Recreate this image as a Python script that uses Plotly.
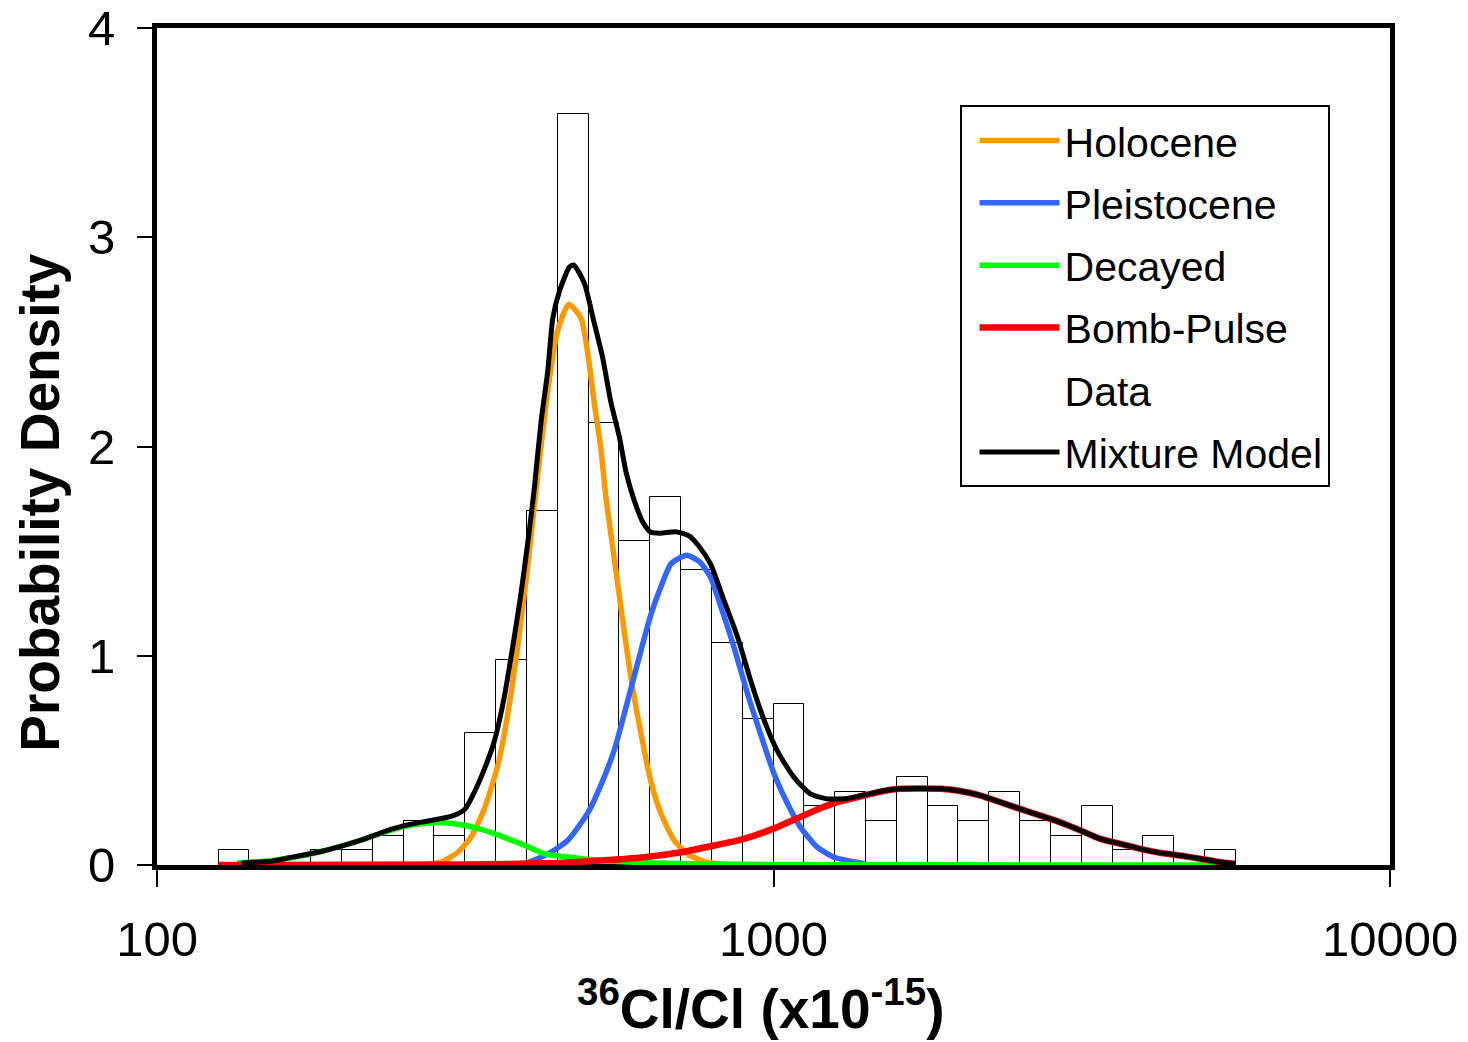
import plotly.graph_objects as go

# ---------------- data ----------------
# Histogram: bins of 0.05 in log10(36Cl/Cl), first bin starts at log10 = 2.10
BIN_LEFT_LOG10 = 2.10
BIN_WIDTH_LOG10 = 0.05
HIST_DENSITY = [0.07, 0.0, 0.0, 0.07, 0.07, 0.14, 0.21, 0.14, 0.63, 0.98,
                1.69, 3.59, 2.11, 1.55, 1.76, 1.41, 1.06, 0.70, 0.77, 0.28,
                0.35, 0.21, 0.42, 0.28, 0.21, 0.35, 0.21, 0.14, 0.28, 0.07,
                0.14, 0.0, 0.07]

# Curves: x given as log10(36Cl/Cl x1e-15), y = probability density
HOLO_LOG10 = [2.43, 2.461, 2.488, 2.510, 2.531, 2.553, 2.569, 2.585, 2.601, 2.618,
              2.634, 2.650, 2.668, 2.688, 2.699, 2.709, 2.720, 2.728, 2.742, 2.755,
              2.769, 2.785, 2.801, 2.817, 2.839, 2.861, 2.89, 2.92]
HOLO_Y = [0.0, 0.014, 0.061, 0.136, 0.269, 0.477, 0.722, 1.043, 1.421, 1.875,
          2.272, 2.555, 2.68, 2.612, 2.441, 2.215, 1.988, 1.762, 1.459, 1.176,
          0.892, 0.628, 0.401, 0.25, 0.117, 0.052, 0.015, 0.003]

PLEI_LOG10 = [2.575, 2.60, 2.634, 2.666, 2.699, 2.720, 2.742, 2.763, 2.785, 2.801,
              2.817, 2.834, 2.859, 2.880, 2.898, 2.915, 2.936, 2.958, 2.979, 3.001,
              3.023, 3.044, 3.071, 3.098, 3.125, 3.15]
PLEI_Y = [0.0, 0.01, 0.053, 0.117, 0.25, 0.382, 0.552, 0.779, 1.025, 1.195,
          1.327, 1.44, 1.48, 1.45, 1.374, 1.231, 1.04, 0.817, 0.626, 0.435,
          0.292, 0.18, 0.085, 0.037, 0.018, 0.005]

DEC_LOG10 = [2.13, 2.16, 2.186, 2.223, 2.261, 2.299, 2.337, 2.369, 2.401, 2.434,
             2.461, 2.499, 2.526, 2.57, 2.60, 2.63, 2.666, 2.70, 2.74, 2.80,
             2.90, 3.00, 3.40, 3.75]
DEC_Y = [0.01, 0.015, 0.021, 0.037, 0.061, 0.09, 0.125, 0.157, 0.184, 0.2,
         0.203, 0.19, 0.17, 0.125, 0.09, 0.052, 0.038, 0.026, 0.018, 0.01,
         0.005, 0.002, 0.0, 0.0]

BOMB_LOG10 = [2.10, 2.50, 2.65, 2.72, 2.79, 2.85, 2.904, 2.952, 3.001, 3.044,
              3.077, 3.109, 3.147, 3.179, 3.206, 3.238, 3.271, 3.298, 3.336, 3.368,
              3.40, 3.433, 3.465, 3.498, 3.53, 3.563, 3.595, 3.627, 3.66, 3.692,
              3.725, 3.75]
BOMB_Y = [0.0, 0.002, 0.01, 0.021, 0.037, 0.061, 0.093, 0.125, 0.175, 0.23,
          0.272, 0.305, 0.332, 0.354, 0.364, 0.366, 0.364, 0.356, 0.332, 0.30,
          0.268, 0.236, 0.204, 0.165, 0.125, 0.101, 0.077, 0.058, 0.045, 0.03,
          0.013, 0.005]

MIX_LOG10 = [2.137, 2.186, 2.223, 2.261, 2.299, 2.337, 2.369, 2.401, 2.439, 2.477,
             2.499, 2.515, 2.531, 2.547, 2.563, 2.577, 2.590, 2.602, 2.612, 2.623,
             2.634, 2.642, 2.653, 2.669, 2.676, 2.693, 2.709, 2.723, 2.736, 2.750,
             2.761, 2.774, 2.788, 2.801, 2.817, 2.842, 2.863, 2.880, 2.898, 2.920,
             2.942, 2.963, 2.985, 3.006, 3.033, 3.06, 3.087, 3.12, 3.147, 3.179,
             3.206, 3.238, 3.271, 3.298, 3.336, 3.368, 3.40, 3.433, 3.465, 3.498,
             3.53, 3.563, 3.595, 3.627, 3.66, 3.692, 3.725, 3.75]
MIX_Y = [0.01, 0.018, 0.04, 0.061, 0.09, 0.125, 0.16, 0.188, 0.21, 0.232,
         0.265, 0.35, 0.458, 0.59, 0.798, 1.043, 1.289, 1.554, 1.80, 2.12,
         2.366, 2.612, 2.744, 2.858, 2.867, 2.782, 2.593, 2.423, 2.215, 2.045,
         1.875, 1.743, 1.639, 1.59, 1.586, 1.592, 1.573, 1.52, 1.438, 1.262,
         1.087, 0.881, 0.69, 0.547, 0.42, 0.34, 0.316, 0.318, 0.335, 0.355,
         0.364, 0.366, 0.364, 0.356, 0.332, 0.30, 0.268, 0.236, 0.204, 0.165,
         0.125, 0.101, 0.077, 0.058, 0.045, 0.03, 0.013, 0.005]

X_TICKS = [100, 1000, 10000]
Y_TICKS = [0, 1, 2, 3, 4]

SERIES = [
    ("Holocene", HOLO_LOG10, HOLO_Y, "#FF9900", 5.5),
    ("Pleistocene", PLEI_LOG10, PLEI_Y, "#3366FF", 5.5),
    ("Decayed", DEC_LOG10, DEC_Y, "#00FF00", 5.5),
    ("Bomb-Pulse", BOMB_LOG10, BOMB_Y, "#FF0000", 6.5),
]

FONT = "Liberation Sans, Arial, sans-serif"

fig = go.Figure()

# histogram bars on a hidden linear axis measured in log10 units
bin_centers = [BIN_LEFT_LOG10 + BIN_WIDTH_LOG10 * (i + 0.5) for i in range(len(HIST_DENSITY))]
fig.add_trace(go.Bar(
    x=bin_centers, y=HIST_DENSITY, width=BIN_WIDTH_LOG10,
    marker=dict(color="white", line=dict(color="black", width=1)),
    xaxis="x", yaxis="y", showlegend=False, name="Data", hoverinfo="skip"))

for i, (name, lx, ys, col, w) in enumerate(SERIES):
    fig.add_trace(go.Scatter(
        x=[10 ** v for v in lx], y=ys, mode="lines", name=name,
        line=dict(color=col, width=w, shape="spline", smoothing=0.6),
        xaxis="x2", yaxis="y", legendgroup=name))

# legend-only entry for the histogram ("Data" shows no visible symbol)
fig.add_trace(go.Scatter(
    x=[None], y=[None], mode="lines", name="Data",
    line=dict(color="rgba(255,255,255,0)", width=0),
    xaxis="x2", yaxis="y", legendgroup="Data"))

fig.add_trace(go.Scatter(
    x=[10 ** v for v in MIX_LOG10], y=MIX_Y, mode="lines", name="Mixture Model",
    line=dict(color="black", width=5, shape="spline", smoothing=0.6),
    xaxis="x2", yaxis="y", legendgroup="Mixture Model"))

fig.update_layout(
    width=1468, height=1042,
    margin=dict(l=157, r=78, t=28, b=177, pad=0, autoexpand=False),
    paper_bgcolor="white", plot_bgcolor="white",
    font=dict(family=FONT, color="black"),
    bargap=0,
    xaxis=dict(type="linear", range=[2, 4], visible=False, fixedrange=True,
               automargin=False),
    xaxis2=dict(type="log", range=[2, 4], overlaying="x", anchor="y", side="bottom",
                tickvals=X_TICKS, ticktext=[str(v) for v in X_TICKS],
                ticks="outside", ticklen=17, tickwidth=2, tickcolor="black",
                showline=True, linewidth=5, linecolor="black", mirror=True,
                showgrid=False, zeroline=False, automargin=False,
                ticklabelstandoff=10,
                tickfont=dict(size=49, family=FONT, color="black")),
    yaxis=dict(range=[0, 4], tickvals=Y_TICKS,
               ticks="outside", ticklen=15, tickwidth=2, tickcolor="black",
               showline=True, linewidth=5, linecolor="black", mirror=True,
               showgrid=False, zeroline=False, automargin=False,
               ticklabelstandoff=12,
               tickfont=dict(size=49, family=FONT, color="black")),
    legend=dict(x=0.6509, y=0.9075, xanchor="left", yanchor="top",
                bgcolor="white", bordercolor="black", borderwidth=2,
                font=dict(size=41, family=FONT, color="black"),
                itemwidth=80, indentation=13, tracegroupgap=6,
                traceorder="grouped"),
    annotations=[
        dict(text="Probability Density", textangle=-90, xref="paper", yref="paper",
             x=-0.095, y=0.4338, xanchor="center", yanchor="middle", showarrow=False,
             font=dict(size=55, family=FONT, color="black", weight="bold")),
        dict(text="<sup>36</sup>Cl/Cl (x10<sup>-15</sup>)", xref="paper", yref="paper",
             x=0.4897, y=-0.1677, xanchor="center", yanchor="middle", showarrow=False,
             font=dict(size=55, family=FONT, color="black", weight="bold")),
    ],
)

fig.write_html("out.html")
